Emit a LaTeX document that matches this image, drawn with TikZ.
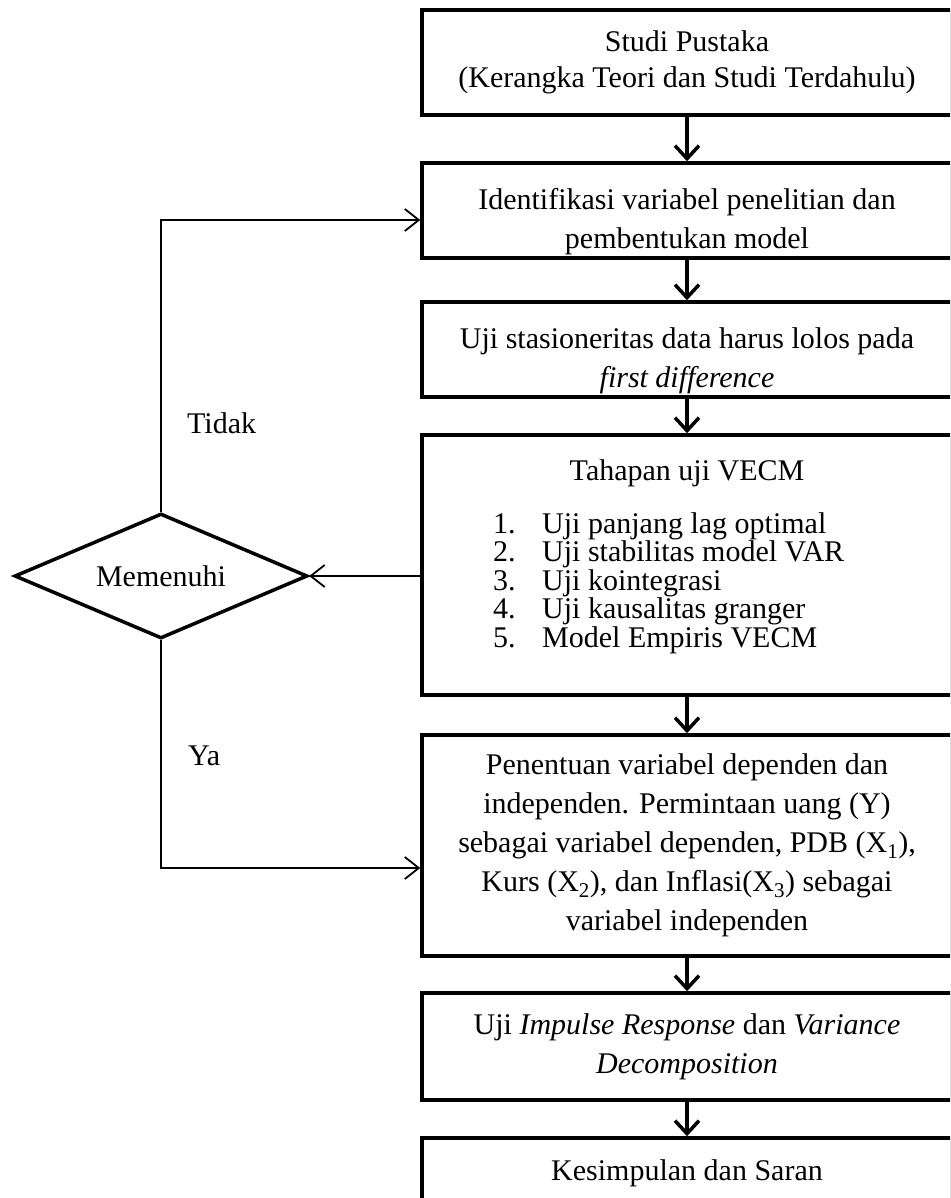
\documentclass[tikz,border=0pt]{standalone}
\usepackage{fontspec}
\setmainfont{Liberation Serif}
\usetikzlibrary{arrows.meta,shapes.geometric}
\begin{document}
\begin{tikzpicture}[x=1pt,y=-1pt,
  every node/.style={font=\fontsize{30}{39}\selectfont, inner sep=0pt},
  box/.style={draw, line width=3.5pt, minimum width=530pt, align=center},
  txt/.style={align=center},
  arrthick/.style={line width=3.5pt, -{Straight Barb[length=13pt,width=24pt]}},
  arrthin/.style={line width=1.8pt, -{Straight Barb[length=14pt,width=22pt]}},
  lbl/.style={anchor=base west}
]
\useasboundingbox (0,0) rectangle (950,1198);
\clip (0,0) rectangle (950,1198);

\node[box, minimum height=105pt, font=\fontsize{30}{36}\selectfont] (b1) at (687,62.5)
  {Studi Pustaka\\(Kerangka Teori dan Studi Terdahulu)};
\node[box, minimum height=95pt] (b2) at (687,210.5) {};
\node[txt] (t2) at ([yshift=-11pt]b2.center)
  {Identifikasi variabel penelitian dan\\pembentukan model};
\node[box, minimum height=95pt] (b3) at (687,349.5) {};
\node[txt] (t3) at ([yshift=-11pt]b3.center)
  {Uji stasioneritas data harus lolos pada\\\textit{first difference}};
\node[box, minimum height=260pt] (b4) at (687,565) {};
\node[anchor=base] (t4) at (687,480) {Tahapan uji VECM};
\node[lbl] (l1) at (493,533) {\makebox[49pt][l]{1.}Uji panjang lag optimal};
\node[lbl] (l2) at (493,561.5) {\makebox[49pt][l]{2.}Uji stabilitas model VAR};
\node[lbl] (l3) at (493,590) {\makebox[49pt][l]{3.}Uji kointegrasi};
\node[lbl] (l4) at (493,618.5) {\makebox[49pt][l]{4.}Uji kausalitas granger};
\node[lbl] (l5) at (493,647) {\makebox[49pt][l]{5.}Model Empiris VECM};
\node[box, minimum height=221pt] (b5) at (687,845.5)
  {Penentuan variabel dependen dan\\independen. Permintaan uang (Y)\\sebagai variabel dependen, PDB (X\textsubscript{1}),\\Kurs (X\textsubscript{2}), dan Inflasi(X\textsubscript{3}) sebagai\\variabel independen};
\node[box, minimum height=107pt] (b6) at (687,1046.5)
  {Uji \textit{Impulse Response} dan \textit{Variance}\\\textit{Decomposition}};
\node[box, minimum height=70pt] (b7) at (687,1173)
  {Kesimpulan dan Saran};

\node[diamond, draw, line width=3.5pt, aspect=2.344, minimum width=293pt, minimum height=125pt] (d) at (161,576) {Memenuhi};

\node[lbl] (tidak) at (187,433) {Tidak};
\node[lbl] (ya) at (188,765) {Ya};

\draw[arrthick] (b1.south) -- (b2.north);
\draw[arrthick] (b2.south) -- (b3.north);
\draw[arrthick] (b3.south) -- (b4.north);
\draw[arrthick] (b4.south) -- (b5.north);
\draw[arrthick] (b5.south) -- (b6.north);
\draw[arrthick] (b6.south) -- (b7.north);

\draw[arrthin] (d.east -| b4.west) -- (d.east);
\draw[arrthin] (d.north) |- ([yshift=-9.5pt]b2.west);
\draw[arrthin] (d.south) |- ([yshift=-22.5pt]b5.west);
\end{tikzpicture}
\end{document}
